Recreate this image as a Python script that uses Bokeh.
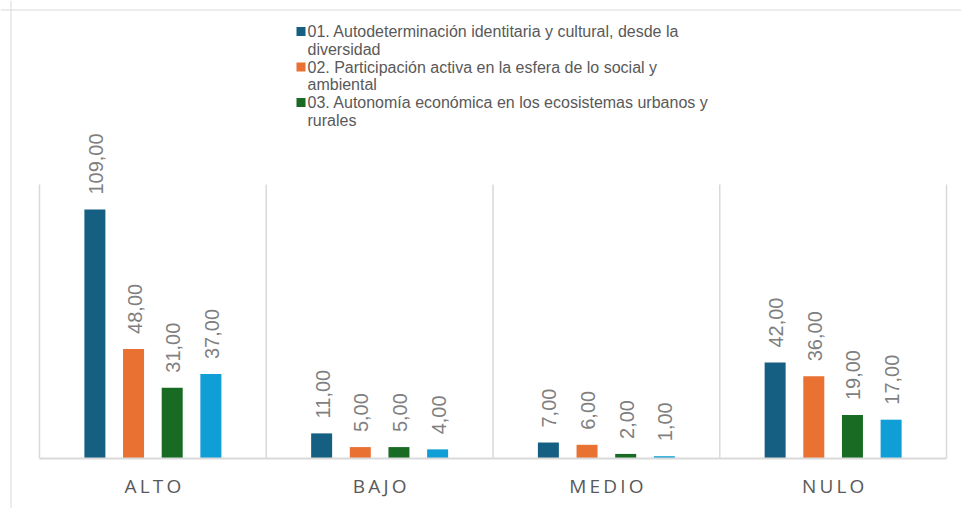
import math
from bokeh.plotting import figure
from bokeh.models import Range1d, ColumnDataSource, Span
from bokeh.core.properties import value
from bokeh.embed import file_html
from bokeh.resources import INLINE

# ---------------- data ----------------
categories = ["ALTO", "BAJO", "MEDIO", "NULO"]
legend_lines = [
    ["01. Autodeterminación identitaria y cultural, desde la", "diversidad"],
    ["02. Participación activa en la esfera de lo social y", "ambiental"],
    ["03. Autonomía económica en los ecosistemas urbanos y", "rurales"],
]
s01 = [109, 11, 7, 42]
s02 = [48, 5, 6, 36]
s03 = [31, 5, 2, 19]
s04 = [37, 4, 1, 17]
series = [s01, s02, s03, s04]
colors = ["#156082", "#E97132", "#196B24", "#0F9ED5"]
y_max = 120

# ---------------- layout (image pixels) ----------------
FIG_W, FIG_H = 961, 508
PAGE = 0
PLOT_L, PLOT_R, PLOT_T, BASE = 39, 946, 184, 458
n = len(categories)
XPX = (PLOT_R - PLOT_L) / n
YPX = (BASE - PLOT_T) / y_max


def px_x(img_x):
    return (img_x - PLOT_L) / XPX


def px_y(img_y):
    return (BASE - img_y) / YPX


p = figure(width=FIG_W, height=FIG_H, output_backend="svg", toolbar_location=None,
           title=None, x_axis_location=None, y_axis_location=None,
           min_border=0, min_border_left=0, min_border_right=0,
           min_border_top=0, min_border_bottom=0,
           x_range=Range1d(px_x(PAGE), px_x(PAGE + FIG_W)),
           y_range=Range1d(px_y(PAGE + FIG_H), px_y(PAGE)))
p.grid.visible = False
p.outline_line_color = None
p.background_fill_color = "white"
p.border_fill_color = "white"

# outer chart border (left & top visible)
p.add_layout(Span(location=10.5 - PAGE, location_units="screen", dimension="height",
                  line_color="#d9d9d9", line_width=1))
p.add_layout(Span(location=FIG_H - (9.5 - PAGE), location_units="screen", dimension="width",
                  line_color="#d9d9d9", line_width=1))

# vertical separators between categories
bounds = list(range(n + 1))
p.segment(x0=bounds, y0=[0] * len(bounds), x1=bounds, y1=[y_max] * len(bounds),
          line_color="#d9d9d9", line_width=1.5)

# bars
group_step = 0.1705
bar_w = 0.0926
for k, vals in enumerate(series):
    xs = [i + 0.5 + (k - (len(series) - 1) / 2) * group_step for i in range(n)]
    src = ColumnDataSource(dict(x=xs, top=vals,
                                lab=[f"{v:.2f}".replace(".", ",") for v in vals]))
    p.vbar(x="x", top="top", bottom=0, width=bar_w, source=src,
           fill_color=colors[k], line_color=None)
    p.text(x="x", y="top", text="lab", source=src, angle=math.pi / 2,
           text_align="left", text_baseline="middle", y_offset=-15, x_offset=1,
           text_font=value("Liberation Sans"), text_font_size=value("20px"),
           text_color="#7f7f7f")

# category axis line
p.segment(x0=[0], y0=[0], x1=[n], y1=[0], line_color="#d9d9d9", line_width=2)

# category labels
p.text(x=[i + 0.5 for i in range(n)], y=[0] * n,
       text=["\u2009".join(c) for c in categories],
       y_offset=27, text_align="center", text_baseline="middle",
       text_font=value("Open Sans"), text_font_size=value("19px"),
       text_color="#595959")

# legend (manual, wrapped lines)
leg_sq_x = px_x(300.5)
leg_tx_x = px_x(307)
for k, lines in enumerate(legend_lines):
    y1 = 31 + 35.5 * k
    p.scatter(x=[leg_sq_x], y=[px_y(y1)], marker="square", size=9,
              fill_color=colors[k], line_color=None)
    p.text(x=[leg_tx_x, leg_tx_x], y=[px_y(y1), px_y(y1 + 17.5)], text=lines,
           text_align="left", text_baseline="middle",
           text_font=value("Liberation Sans"), text_font_size=value("16px"),
           text_color="#595959")

open("out.html", "w").write(file_html(p, INLINE))
